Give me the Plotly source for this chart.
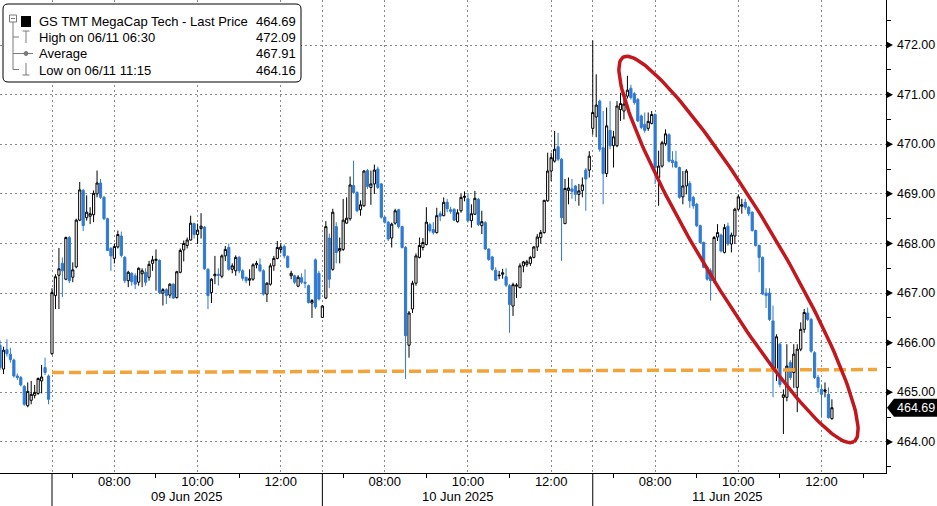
import numpy as np
import pandas as pd
import plotly.graph_objects as go

# ---------------- data (5-minute bars) ----------------
session_dates = ["2025-06-06", "2025-06-09", "2025-06-10", "2025-06-11"]
session_first_bar = ["11:45", "06:30", "06:30", "06:30"]
session_index = [-1, 0, 1, 2]          # trading-session order (gaps removed)

jun06_ohlc = [
    (465.95, 466.05, 465.45, 465.50), (465.47, 465.92, 465.37, 465.85), (465.86, 466.07, 465.72, 465.78),
    (465.77, 465.90, 465.60, 465.66), (465.65, 465.68, 465.30, 465.33), (465.33, 465.38, 465.25, 465.30),
    (465.30, 465.33, 465.12, 465.15), (465.12, 465.15, 464.73, 464.76), (464.73, 465.20, 464.70, 465.02),
    (464.84, 465.23, 464.76, 464.96), (464.94, 465.15, 464.88, 465.00), (464.98, 465.30, 464.95, 465.28),
    (465.23, 465.55, 464.98, 465.31), (465.50, 465.70, 465.35, 465.40), (465.33, 465.36, 464.76, 464.86),
]
jun09_ohlc = [
    (465.78, 467.10, 465.75, 467.01), (466.95, 467.38, 466.68, 467.33), (467.36, 467.91, 466.68, 467.49),
    (467.60, 467.72, 466.92, 467.45), (467.28, 468.14, 467.26, 468.12), (468.12, 468.15, 467.20, 467.25),
    (467.32, 467.62, 467.22, 467.47), (467.53, 468.50, 467.50, 468.47), (468.47, 469.24, 468.45, 469.08),
    (469.07, 469.10, 468.25, 468.36), (468.52, 468.97, 468.46, 468.63), (468.55, 468.73, 468.39, 468.60),
    (468.58, 469.07, 468.43, 469.01), (469.00, 469.47, 468.93, 469.22), (469.22, 469.30, 468.90, 468.93),
    (468.93, 468.96, 468.47, 468.50), (468.50, 468.52, 467.85, 467.86), (467.90, 467.93, 467.45, 467.75),
    (467.70, 468.00, 467.60, 467.94), (467.93, 468.26, 467.90, 468.18), (468.15, 468.24, 467.72, 467.76),
    (467.72, 467.75, 467.20, 467.25), (467.25, 467.45, 467.12, 467.42), (467.40, 467.42, 467.15, 467.23),
    (467.35, 467.40, 467.08, 467.18), (467.22, 467.52, 467.15, 467.50), (467.39, 467.50, 467.12, 467.45),
    (467.42, 467.50, 467.15, 467.22), (467.32, 467.65, 467.25, 467.58), (467.60, 467.75, 467.45, 467.67),
    (467.66, 467.88, 467.05, 467.68), (467.66, 467.68, 466.98, 467.01), (467.00, 467.10, 466.75, 467.07),
    (467.07, 467.10, 466.78, 466.95), (466.96, 467.20, 466.90, 467.18), (467.18, 467.20, 466.88, 466.90),
    (466.91, 467.45, 466.89, 467.43), (467.42, 467.90, 467.40, 467.86), (467.87, 468.06, 467.64, 468.00),
    (467.96, 468.12, 467.90, 468.07), (468.07, 468.56, 468.06, 468.41), (468.40, 468.42, 468.10, 468.18),
    (468.18, 468.40, 467.99, 468.27), (468.30, 468.61, 468.10, 468.35), (468.33, 468.35, 467.47, 467.49),
    (467.48, 467.50, 466.68, 466.95), (467.01, 467.30, 466.80, 467.28), (467.35, 467.75, 467.18, 467.38),
    (467.38, 467.50, 467.15, 467.36), (467.34, 467.78, 467.30, 467.75), (467.75, 467.95, 467.65, 467.88),
    (467.92, 468.00, 467.45, 467.48), (467.48, 467.60, 467.40, 467.55), (467.45, 467.76, 467.35, 467.72),
    (467.72, 467.75, 467.40, 467.45), (467.45, 467.48, 467.25, 467.30), (467.32, 467.33, 467.20, 467.25),
    (467.26, 467.48, 467.15, 467.29), (467.28, 467.60, 467.25, 467.57), (467.57, 467.65, 467.50, 467.60),
    (467.57, 467.70, 467.42, 467.45), (467.45, 467.48, 466.95, 466.98), (466.98, 467.22, 466.82, 467.20),
    (467.18, 467.60, 467.15, 467.55), (467.55, 467.75, 467.45, 467.70), (467.70, 468.05, 467.68, 467.92),
    (467.88, 468.00, 467.80, 467.93), (467.94, 467.98, 467.70, 467.75), (467.74, 467.76, 467.50, 467.52),
    (467.35, 467.45, 467.28, 467.40), (467.35, 467.37, 467.18, 467.22), (467.14, 467.36, 467.12, 467.32),
    (467.31, 467.40, 467.18, 467.22), (467.22, 467.48, 467.10, 467.20), (467.15, 467.17, 466.79, 466.81),
    (466.80, 466.88, 466.50, 466.85), (467.67, 467.70, 466.68, 466.72), (467.40, 467.45, 466.85, 466.88),
]
jun10_ohlc = [
    (466.51, 466.76, 466.50, 466.74), (466.90, 468.45, 466.88, 468.34), (468.11, 468.20, 467.10, 467.28),
    (467.48, 468.70, 467.45, 468.63), (468.34, 468.43, 467.60, 467.82), (467.85, 468.12, 467.60, 467.90),
    (467.88, 468.90, 467.85, 468.47), (468.41, 468.93, 468.40, 468.51), (468.50, 469.35, 468.46, 469.18),
    (469.17, 469.67, 469.00, 469.03), (469.03, 469.05, 468.63, 468.66), (468.68, 468.87, 468.56, 468.78),
    (468.76, 469.48, 468.74, 469.46), (469.47, 469.50, 469.10, 469.15), (469.13, 469.47, 468.78, 469.20),
    (469.20, 469.59, 469.00, 469.48), (469.50, 469.55, 469.10, 469.13), (469.20, 469.22, 468.50, 468.53),
    (468.53, 468.55, 468.40, 468.43), (468.43, 468.45, 468.05, 468.09), (468.11, 468.42, 467.92, 468.39),
    (468.41, 468.70, 468.38, 468.66), (468.68, 468.70, 468.30, 468.34), (468.34, 468.36, 467.90, 467.92),
    (467.92, 467.95, 465.27, 466.14), (465.95, 466.64, 465.70, 466.60), (466.68, 467.25, 466.60, 467.20),
    (467.20, 467.80, 467.15, 467.75), (467.72, 468.12, 467.70, 467.96), (467.92, 468.11, 467.86, 468.02),
    (467.98, 468.73, 467.96, 468.43), (468.38, 468.42, 468.22, 468.26), (468.28, 468.43, 468.18, 468.22),
    (468.22, 468.72, 468.20, 468.56), (468.60, 468.65, 468.45, 468.55), (468.56, 468.93, 468.55, 468.83),
    (468.83, 468.90, 468.63, 468.70), (468.68, 468.74, 468.60, 468.65), (468.69, 468.71, 468.45, 468.47),
    (468.44, 468.69, 468.42, 468.62), (468.66, 469.00, 468.62, 468.93), (468.93, 469.05, 468.85, 468.95),
    (468.90, 469.02, 468.42, 468.46), (468.46, 468.79, 468.32, 468.60), (468.59, 469.06, 468.58, 468.91),
    (468.89, 468.92, 468.35, 468.38), (468.36, 468.66, 468.19, 468.44), (468.42, 468.45, 467.87, 467.89),
    (467.89, 467.90, 467.65, 467.68), (467.73, 467.75, 467.45, 467.48), (467.46, 467.52, 467.25, 467.26),
    (467.35, 467.45, 467.28, 467.36), (467.38, 467.49, 467.29, 467.41), (467.33, 467.50, 467.12, 467.16),
    (467.15, 467.18, 466.20, 466.77), (466.74, 467.21, 466.54, 467.17), (467.14, 467.20, 466.90, 467.16),
    (467.11, 467.60, 467.10, 467.55), (467.55, 467.65, 467.42, 467.63), (467.58, 467.67, 467.53, 467.63),
    (467.60, 467.75, 467.55, 467.72), (467.72, 467.95, 467.70, 467.93), (467.93, 468.19, 467.85, 468.13),
    (468.12, 468.27, 468.00, 468.22), (468.22, 468.88, 468.20, 468.87), (468.86, 469.83, 468.84, 469.46),
    (469.46, 469.83, 469.26, 469.73), (469.66, 470.27, 469.63, 469.90), (469.95, 470.23, 469.66, 469.70),
    (469.70, 469.72, 467.65, 468.52), (468.40, 469.30, 468.39, 469.11), (469.07, 469.33, 468.79, 469.12),
    (469.10, 469.30, 468.90, 469.05), (469.16, 469.18, 468.85, 468.99), (468.99, 469.20, 468.76, 469.06),
    (469.07, 469.33, 468.93, 469.18), (469.48, 469.52, 468.66, 469.30), (469.48, 469.86, 469.33, 469.76),
]
jun11_ohlc = [
    (470.32, 472.09, 470.19, 470.64), (470.55, 471.41, 470.14, 470.79), (470.87, 470.90, 469.85, 469.90),
    (469.93, 470.67, 468.79, 469.41), (469.41, 470.74, 469.34, 470.37), (470.28, 470.87, 469.90, 469.97),
    (469.97, 470.27, 469.53, 470.15), (469.97, 470.87, 469.94, 470.77), (470.70, 471.04, 470.47, 470.82),
    (470.67, 471.00, 470.50, 470.81), (470.97, 471.38, 470.92, 471.09), (471.13, 471.20, 470.90, 470.94),
    (471.02, 471.05, 470.80, 470.84), (470.90, 470.93, 470.45, 470.47), (470.57, 470.60, 470.30, 470.34),
    (470.40, 470.64, 470.23, 470.28), (470.32, 470.64, 470.27, 470.46), (470.42, 470.67, 470.40, 470.60),
    (470.60, 470.62, 469.20, 469.53), (469.33, 469.87, 468.76, 469.56), (469.56, 470.07, 469.53, 470.03),
    (470.01, 470.30, 469.97, 470.21), (470.19, 470.22, 469.63, 469.66), (469.68, 469.86, 469.53, 469.63),
    (469.65, 469.87, 469.52, 469.54), (469.53, 469.55, 468.90, 468.93), (468.94, 469.46, 468.79, 469.16),
    (469.16, 469.50, 468.99, 469.46), (469.21, 469.26, 468.72, 468.86), (468.93, 468.96, 468.70, 468.76),
    (468.79, 468.82, 468.33, 468.36), (468.36, 468.38, 468.00, 468.02), (468.02, 468.04, 467.50, 467.52),
    (467.52, 467.55, 467.25, 467.28), (467.45, 467.50, 466.85, 467.25), (467.25, 468.15, 467.20, 468.12),
    (468.13, 468.39, 468.05, 468.22), (468.17, 468.20, 467.82, 467.85), (467.82, 468.39, 467.80, 468.32),
    (468.35, 468.42, 467.95, 467.99), (467.99, 468.22, 467.82, 468.17), (468.15, 468.72, 467.99, 468.69),
    (468.69, 468.99, 468.66, 468.94), (468.75, 468.90, 468.60, 468.78), (468.83, 468.90, 468.68, 468.73),
    (468.73, 468.76, 468.55, 468.60), (468.63, 468.65, 468.24, 468.26), (468.26, 468.28, 467.94, 467.96),
    (467.96, 467.98, 467.42, 467.72), (467.72, 467.74, 466.96, 466.98), (467.00, 467.10, 466.70, 466.95),
    (467.00, 467.10, 466.44, 466.47), (466.44, 466.75, 464.90, 465.43), (465.43, 466.17, 465.23, 466.12),
    (465.97, 466.00, 465.10, 465.16), (464.90, 465.06, 464.16, 464.95), (464.90, 465.97, 464.82, 465.53),
    (465.60, 465.65, 465.25, 465.30), (465.40, 465.97, 465.09, 465.77), (465.10, 465.97, 464.60, 465.87),
    (465.87, 466.41, 465.83, 466.27), (466.27, 466.68, 466.20, 466.61), (466.60, 466.71, 466.44, 466.47),
    (466.47, 466.50, 465.80, 465.83), (465.80, 465.83, 465.27, 465.30), (465.30, 465.35, 465.00, 465.10),
    (465.06, 465.16, 464.49, 464.96), (465.02, 465.20, 464.90, 465.05), (464.96, 465.10, 464.47, 464.49),
    (464.47, 464.86, 464.45, 464.69),
]
session_ohlc = [jun06_ohlc, jun09_ohlc, jun10_ohlc, jun11_ohlc]

# orange reference (average) line
avg_line_time = ["2025-06-09 06:30", "2025-06-11 13:20"]
avg_line_value = [465.40, 465.46]

# axis labels
time_tick_hours = [8, 10, 12]
time_tick_text = ["08:00", "10:00", "12:00"]
day_labels = ["09 Jun 2025", "10 Jun 2025", "11 Jun 2025"]
price_ticks = [464, 465, 466, 467, 468, 469, 470, 471, 472]

legend_labels = ["GS TMT MegaCap Tech - Last Price", "High on 06/11 06:30", "Average", "Low on 06/11 11:15"]
legend_values = ["464.69", "472.09", "467.91", "464.16"]
last_price = 464.69

# ---------------- helpers ----------------
SESSION_OPEN = 6.5
SESSION_LEN = 6.5
day_pos = dict(zip(session_dates, session_index))


def session_x(ts):
    ts = pd.Timestamp(ts)
    d = ts.strftime("%Y-%m-%d")
    return day_pos[d] * SESSION_LEN + (ts.hour + ts.minute / 60 - SESSION_OPEN)


xs, o, h, l, c = [], [], [], [], []
for d, first, bars in zip(session_dates, session_first_bar, session_ohlc):
    times = pd.date_range(f"{d} {first}", periods=len(bars), freq="5min")
    for t, (bo, bh, bl, bc) in zip(times, bars):
        xs.append(session_x(t))
        o.append(bo); h.append(bh); l.append(bl); c.append(bc)

PW, PH = 886, 473
X_RANGE = [-1.25, 20.05]
Y_RANGE = [463.375, 472.907]


def X(px):
    return px / PW


def Y(py):
    return 1 - py / PH


def px2data(px, py):
    return (X_RANGE[0] + px / PW * (X_RANGE[1] - X_RANGE[0]),
            Y_RANGE[1] - py / PH * (Y_RANGE[1] - Y_RANGE[0]))


BLUE = "#2f7ad2"
fig = go.Figure()

fig.add_trace(go.Candlestick(
    x=xs, open=o, high=h, low=l, close=c,
    increasing=dict(fillcolor="white", line=dict(color="black", width=1)),
    decreasing=dict(fillcolor=BLUE, line=dict(color=BLUE, width=1)),
    whiskerwidth=0, hoverinfo="skip", showlegend=False,
))

fig.add_trace(go.Scatter(
    x=[session_x(t) for t in avg_line_time], y=avg_line_value, mode="lines",
    line=dict(color="#F2A33A", width=3.5, dash="12px,5px"), hoverinfo="skip", showlegend=False,
))

# red annotation ellipse (drawn in pixel space, mapped to data)
cx, cy, a, b = 738.5, 249.5, 224.5, 37.0
ux, uy = 231 / 449.6, 385 / 449.6
vx, vy = -uy, ux
t = np.linspace(0, 2 * np.pi, 200)
ex = cx + a * np.cos(t) * ux + b * np.sin(t) * vx
ey = cy + a * np.cos(t) * uy + b * np.sin(t) * vy
edata = [px2data(px, py) for px, py in zip(ex, ey)]
fig.add_trace(go.Scatter(
    x=[p[0] for p in edata], y=[p[1] for p in edata], mode="lines",
    line=dict(color="#C2171D", width=3.5), hoverinfo="skip", showlegend=False,
))

# ---------------- axes ----------------
day_starts = [i * SESSION_LEN for i in range(3)]
major_vals, major_text = [], []
for i in range(3):
    major_vals.append(day_starts[i]); major_text.append("")
    for hh, txt in zip(time_tick_hours, time_tick_text):
        major_vals.append(day_starts[i] + hh - SESSION_OPEN); major_text.append(txt)
minor_vals = [day_starts[i] + hh - SESSION_OPEN for i in range(3) for hh in (7, 9, 11, 13) if not (i < 2 and hh == 13)]

GRID = "#8a8a8a"
fig.update_xaxes(
    range=X_RANGE, tickmode="array", tickvals=major_vals, ticktext=major_text,
    showgrid=True, gridcolor=GRID, gridwidth=1, griddash="2px,3px",
    showline=True, linecolor="black", linewidth=1, ticks="", zeroline=False,
    tickfont=dict(family="Liberation Sans", size=13, color="black"),
    ticklabelstandoff=-4,
    minor=dict(tickmode="array", tickvals=minor_vals, ticks="outside", ticklen=4,
               tickcolor="black", showgrid=False),
    rangeslider=dict(visible=False), fixedrange=True,
)
fig.update_yaxes(
    side="right", range=Y_RANGE, tickmode="array", tickvals=price_ticks,
    showticklabels=False,
    showgrid=True, gridcolor=GRID, gridwidth=1, griddash="2px,3px",
    showline=True, linecolor="black", linewidth=1, ticks="", zeroline=False,
    minor=dict(tickmode="array", tickvals=[v + 0.5 for v in [463] + price_ticks],
               ticks="outside", ticklen=4, tickcolor="black", showgrid=False),
    fixedrange=True,
)

shapes = []
annotations = []

# price labels with arrow markers on the right axis
tri = 3.5 / PH * (Y_RANGE[1] - Y_RANGE[0])
for v in price_ticks:
    shapes.append(dict(type="path", xref="paper", yref="y", fillcolor="black", line=dict(width=0),
                       path=f"M {X(886.5)},{v + tri} L {X(893)},{v} L {X(886.5)},{v - tri} Z"))
    annotations.append(dict(xref="paper", yref="y", x=X(895), y=v, text=f"{v:.2f}", showarrow=False,
                            xanchor="left", yanchor="middle",
                            font=dict(family="Liberation Sans", size=12.5, color="black")))

# day separators below the axis and day labels
for i, lab in enumerate(day_labels):
    shapes.append(dict(type="line", xref="x", yref="paper", x0=day_starts[i], x1=day_starts[i],
                       y0=0, y1=Y(506), line=dict(color="black", width=1)))
    annotations.append(dict(xref="x", yref="paper", x=day_starts[i] + SESSION_LEN / 2, y=Y(497),
                            text=lab, showarrow=False, xanchor="center", yanchor="middle",
                            font=dict(family="Liberation Sans", size=13, color="black")))

# last price tag on the right axis
dy = 9 / PH * (Y_RANGE[1] - Y_RANGE[0])
shapes.append(dict(type="path", xref="paper", yref="y", fillcolor="black", line=dict(width=0),
                   path=(f"M {X(887)},{last_price} L {X(894)},{last_price + dy} L {X(937)},{last_price + dy} "
                         f"L {X(937)},{last_price - dy} L {X(894)},{last_price - dy} Z")))
annotations.append(dict(xref="paper", yref="y", x=X(895), y=last_price, text=f"{last_price:.2f}",
                        showarrow=False, xanchor="left", yanchor="middle",
                        font=dict(family="Liberation Sans", size=12.5, color="white")))

# legend box (top-left)
LX0, LX1, LY0, LY1, R = 3, 301, 4, 82, 5
shapes.append(dict(type="path", xref="paper", yref="paper", fillcolor="white",
                   line=dict(color="black", width=1),
                   path=(f"M {X(LX0 + R)},{Y(LY0)} L {X(LX1 - R)},{Y(LY0)} Q {X(LX1)},{Y(LY0)} {X(LX1)},{Y(LY0 + R)} "
                         f"L {X(LX1)},{Y(LY1 - R)} Q {X(LX1)},{Y(LY1)} {X(LX1 - R)},{Y(LY1)} "
                         f"L {X(LX0 + R)},{Y(LY1)} Q {X(LX0)},{Y(LY1)} {X(LX0)},{Y(LY1 - R)} "
                         f"L {X(LX0)},{Y(LY0 + R)} Q {X(LX0)},{Y(LY0)} {X(LX0 + R)},{Y(LY0)} Z")))
GRAYL = "#7a7a7a"


def seg(x0, y0, x1, y1, color=GRAYL, w=1):
    shapes.append(dict(type="line", xref="paper", yref="paper", x0=X(x0), y0=Y(y0), x1=X(x1), y1=Y(y1),
                       line=dict(color=color, width=w)))


# collapse box and tree
shapes.append(dict(type="rect", xref="paper", yref="paper", x0=X(9.5), x1=X(16.5), y0=Y(15), y1=Y(22),
                   line=dict(color=GRAYL, width=1), fillcolor="white"))
seg(11, 18.5, 15, 18.5)
seg(13, 22, 13, 69.5)
for yy in (37, 53.5, 69.5):
    seg(13, yy, 19, yy)
shapes.append(dict(type="rect", xref="paper", yref="paper", x0=X(21), x1=X(31), y0=Y(16), y1=Y(27),
                   line=dict(color="black", width=0), fillcolor="black"))
# high icon
seg(26, 31, 26, 43); seg(22.5, 31, 29.5, 31)
# average icon
seg(19, 53.5, 33, 53.5)
shapes.append(dict(type="circle", xref="paper", yref="paper", x0=X(24), x1=X(28), y0=Y(51.5), y1=Y(55.5),
                   line=dict(color=GRAYL, width=1), fillcolor=GRAYL))
# low icon
seg(26, 63, 26, 75); seg(22.5, 75, 29.5, 75)

for lab, val, yy in zip(legend_labels, legend_values, (22, 37.5, 54, 70)):
    annotations.append(dict(xref="paper", yref="paper", x=X(37), y=Y(yy), text=lab, showarrow=False,
                            xanchor="left", yanchor="middle",
                            font=dict(family="Liberation Sans", size=13, color="black")))
    annotations.append(dict(xref="paper", yref="paper", x=X(LX1 - 3), y=Y(yy), text=val, showarrow=False,
                            xanchor="right", yanchor="middle",
                            font=dict(family="Liberation Sans", size=13, color="black")))

fig.update_layout(
    width=937, height=506, margin=dict(l=0, r=51, t=0, b=33),
    plot_bgcolor="white", paper_bgcolor="white", showlegend=False,
    boxgap=0.1, shapes=shapes, annotations=annotations,
    font=dict(family="Liberation Sans", size=12, color="black"),
)

fig.write_html("out.html", config={"displayModeBar": False, "staticPlot": True},
               post_script="document.body.style.margin='0px';document.body.style.overflow='hidden';")
